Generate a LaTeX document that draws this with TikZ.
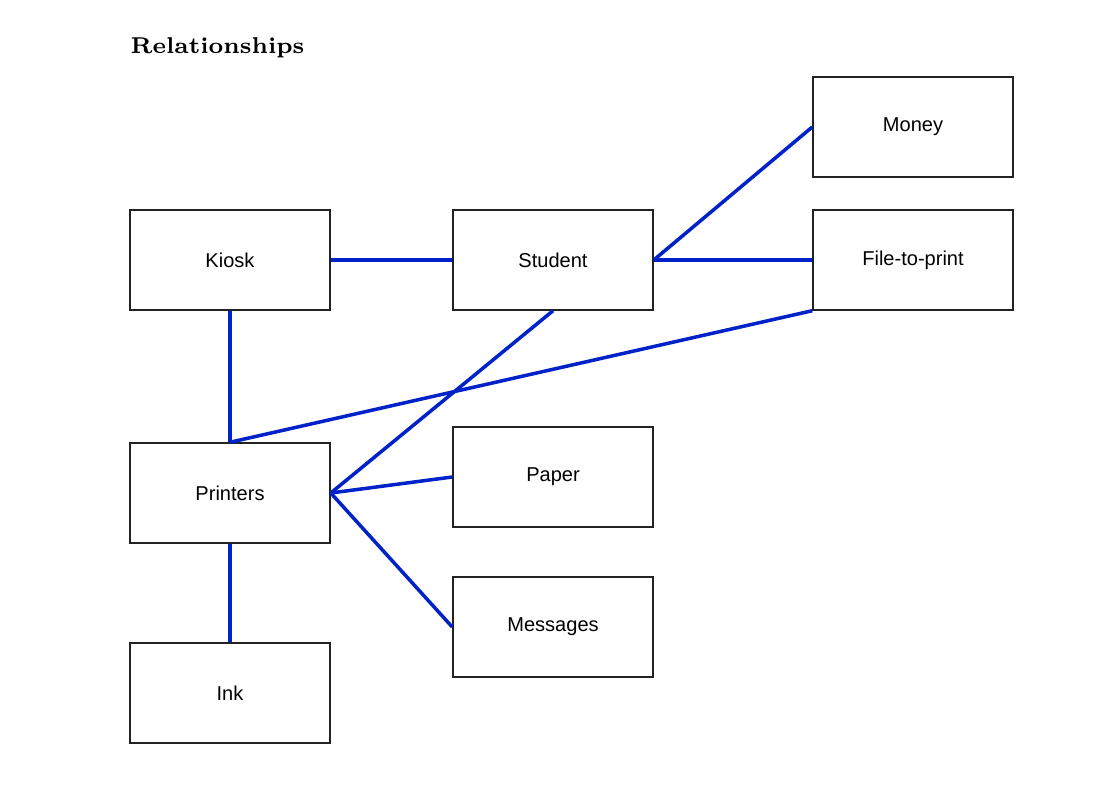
\documentclass[tikz,border=0pt]{standalone}
\usepackage{xcolor}
\usepackage{tikz}
\usepackage{fontspec}
\newfontfamily\boxfont{Liberation Sans}
\usetikzlibrary{positioning}
\definecolor{relblue}{HTML}{0022C8}
\definecolor{boxdark}{HTML}{222222}

\begin{document}
\begin{tikzpicture}[x=0.01cm, y=-0.01cm,
        entity/.style={draw=boxdark, fill=white, minimum width=2cm, minimum height=1cm, line width=0.4pt, inner sep=0pt, font=\boxfont\fontsize{5.7pt}{7pt}\selectfont},
        rel/.style={line width=1pt, relblue}]
        \useasboundingbox (0,0) rectangle (1104,807);

        % Title
        \node[anchor=base west, inner sep=0pt, font=\fontsize{6.5pt}{8pt}\selectfont\bfseries] at (130,54) (title) {Relationships};

        % Entities
        \foreach \x/\y/\name/\label in {230/260/kiosk/Kiosk, 553/260/student/Student, 913/127/money/Money, 913/260/file/File-to-print, 230/493/printers/Printers, 553/477/paper/Paper, 553/627/messages/Messages, 230/693/ink/Ink} {
            \node[entity] at (\x,\y) (\name) {\label};
        }

        % Relationships
        \draw[rel] (kiosk.east) -- (student.west);
        \draw[rel] (student.east) -- (money.west);
        \draw[rel] (student.east) -- (file.west);
        \draw[rel] (kiosk.south) -- (printers.north);
        \draw[rel] (file.south west) -- (printers.north);
        \draw[rel] (student.south) -- (printers.east);
        \draw[rel] (printers.east) -- (paper.west);
        \draw[rel] (printers.east) -- (messages.west);
        \draw[rel] (printers.south) -- (ink.north);

    \end{tikzpicture}
\end{document}
